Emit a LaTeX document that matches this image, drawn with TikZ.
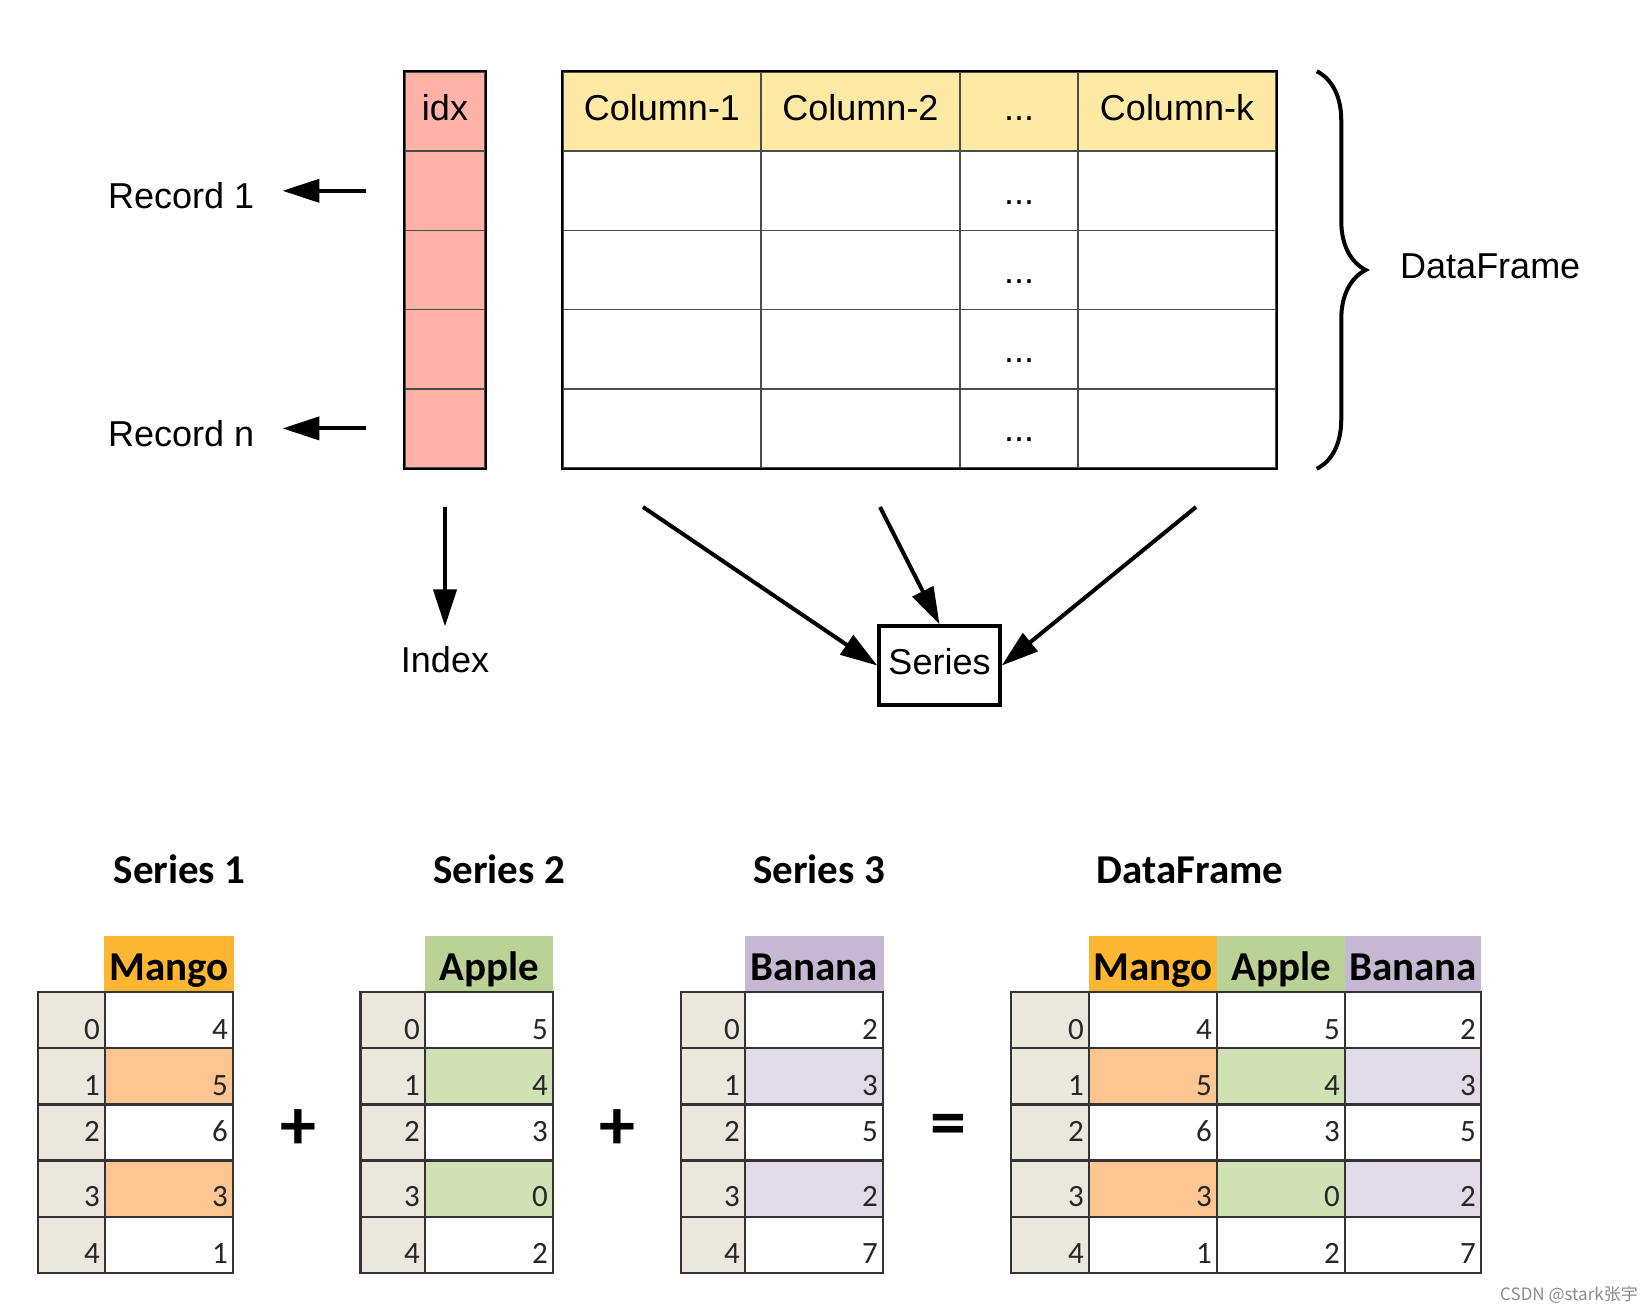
\documentclass[tikz,border=0pt]{standalone}
\usepackage{fontspec}
\setmainfont{Liberation Sans}
\newfontfamily\calibri{Carlito}
\newfontfamily\cjkfont{Noto Sans CJK SC}
\usepackage{xcolor}
\usetikzlibrary{arrows.meta, decorations.pathreplacing}

\definecolor{idxpink}{HTML}{FFB3A8}
\definecolor{headyellow}{HTML}{FFEAA5}
\definecolor{mangohead}{HTML}{FDB631}
\definecolor{mangocell}{HTML}{FDC592}
\definecolor{applehead}{HTML}{BBD296}
\definecolor{applecell}{HTML}{D1E1B6}
\definecolor{bananahead}{HTML}{C5B8D3}
\definecolor{bananacell}{HTML}{E1DAE8}
\definecolor{idxgray}{HTML}{EAE7DC}
\newcommand{\tdots}{...}

\begin{document}
\begin{tikzpicture}[x=1pt, y=-1pt]
	\tikzstyle{txt}=[inner sep=0pt, font=\fontsize{36}{43}\selectfont, text height=26.3pt, text depth=7.6pt]
	\tikzstyle{cell}=[draw=black!70, line width=1.5pt, minimum height=79.2pt, txt]
	\tikzstyle{arr}=[line width=4pt, -{Triangle[length=37pt, width=23pt]}]
	\tikzstyle{title}=[inner sep=0pt, anchor=base, font=\calibri\bfseries\fontsize{41}{49}\selectfont]
	\tikzstyle{head}=[minimum height=56pt, inner sep=0pt, text height=32pt, text depth=0pt, font=\calibri\bfseries\fontsize{41}{49}\selectfont]
	\tikzstyle{box}=[draw=black!80, line width=2.5pt, minimum height=56.2pt, inner sep=0pt]
	\tikzstyle{num}=[inner sep=0pt, anchor=base east, font=\calibri\fontsize{31}{37}\selectfont, text=black!85]
	\tikzstyle{op}=[inner sep=0pt, font=\calibri\bfseries\fontsize{72}{80}\selectfont]

	\path[fill=white] (0,0) rectangle (1648,1312);

	\draw node[cell, fill=idxpink, minimum width=80pt] at (445, 111.6) (idx-0) {idx};
	\foreach \i in {1,...,4}
		\draw node[cell, fill=idxpink, minimum width=80pt] at (445, 111.6+79.2*\i) (idx-\i) {};
	\draw[line width=1.8pt] (idx-0.north west) rectangle (idx-4.south east);

	\foreach \n/\cx/\w/\lab in {c1/662/198/Column-1, c2/860.5/199/Column-2, cd/1019/118/\tdots, ck/1177/198/Column-k} {
		\draw node[cell, fill=headyellow, minimum width=\w pt] at (\cx, 111.6) (\n-0) {\lab};
		\foreach \i in {1,...,4}
			\draw node[cell, minimum width=\w pt] at (\cx, 111.6+79.2*\i) (\n-\i) {};
	}
	\foreach \i in {1,...,4}
		\draw node[txt] at (1019, 115.8+79.2*\i) (dots-\i) {\tdots};
	\draw[line width=1.8pt] (c1-0.north west) rectangle (ck-4.south east);

	\draw node[txt, anchor=west] at (108, 199.6) (rec1) {Record 1};
	\draw node[txt, anchor=west] at (108, 437.6) (recn) {Record n};
	\draw[arr, shorten <=38pt, shorten >=28pt] (idx-1.west) -- (rec1.east |- idx-1.west);
	\draw[arr, shorten <=38pt, shorten >=28pt] (idx-4.west) -- (recn.east |- idx-4.west);

	\draw[line width=4pt, decorate, decoration={brace, amplitude=49pt}] ([xshift=40pt]ck-0.north east) -- ([xshift=40pt]ck-4.south east);
	\draw node[txt, anchor=west] at (1400, 269) (dflabel) {DataFrame};

	\draw node[txt] at (445, 663.6) (index) {Index};
	\draw[arr, shorten <=38pt, shorten >=20pt] (idx-4.south) -- (index.north);

	\draw node[txt, draw, line width=3.5pt, minimum width=121pt, minimum height=79pt] at (939.5, 665.5) (series) {Series};
	\coordinate (from1) at (643, 507);
	\coordinate (from2) at (880, 507);
	\coordinate (from3) at (1196, 507);
	\draw[arr] (from1) -- (series.west);
	\draw[arr] (from2) -- (series.north);
	\draw[arr] (from3) -- (series.east);

	\draw node[title] at (179.5, 883) (t1) {Series 1};
	\draw node[title] at (499, 883) (t2) {Series 2};
	\draw node[title] at (819, 883) (t3) {Series 3};
	\draw node[title] at (1190, 883) (t4) {DataFrame};

	\draw node[head, fill=mangohead, minimum width=130pt] at (169, 964) (s1-h) {Mango};
	\draw node[head, fill=applehead, minimum width=128pt] at (489, 964) (s2-h) {Apple};
	\draw node[head, fill=bananahead, minimum width=139pt] at (814, 964) (s3-h) {Banana};
	\draw node[head, fill=mangohead, minimum width=128pt] at (1153, 964) (df-h1) {Mango};
	\draw node[head, fill=applehead, minimum width=128pt] at (1281, 964) (df-h2) {Apple};
	\draw node[head, fill=bananahead, minimum width=136pt] at (1413, 964) (df-h3) {Banana};

	\foreach \i/\bl/\a/\b/\c in {0/1039/4/5/2, 1/1095/5/4/3, 2/1141/6/3/5, 3/1206/3/0/2, 4/1263/1/2/7} {
		\pgfmathtruncatemacro\pct{100*mod(\i,2)}
		\draw node[box, fill=idxgray, minimum width=67pt] at (71.5, 1020.1+56.2*\i) (s1-i\i) {};
		\draw node[box, fill=mangocell!\pct!white, minimum width=128pt] at (169, 1020.1+56.2*\i) (s1-v\i) {};
		\draw node[num] at (100, \bl) (s1-ni\i) {\i};
		\draw node[num] at (228, \bl) (s1-nv\i) {\a};

		\draw node[box, fill=idxgray, minimum width=64.3pt] at (392.6, 1020.1+56.2*\i) (s2-i\i) {};
		\draw node[box, fill=applecell!\pct!white, minimum width=128.2pt] at (488.9, 1020.1+56.2*\i) (s2-v\i) {};
		\draw node[num] at (420, \bl) (s2-ni\i) {\i};
		\draw node[num] at (548, \bl) (s2-nv\i) {\b};

		\draw node[box, fill=idxgray, minimum width=64.3pt] at (712.9, 1020.1+56.2*\i) (s3-i\i) {};
		\draw node[box, fill=bananacell!\pct!white, minimum width=137.7pt] at (813.9, 1020.1+56.2*\i) (s3-v\i) {};
		\draw node[num] at (740, \bl) (s3-ni\i) {\i};
		\draw node[num] at (878, \bl) (s3-nv\i) {\c};

		\draw node[box, fill=idxgray, minimum width=78pt] at (1050, 1020.1+56.2*\i) (df-i\i) {};
		\draw node[box, fill=mangocell!\pct!white, minimum width=128pt] at (1153, 1020.1+56.2*\i) (df-a\i) {};
		\draw node[box, fill=applecell!\pct!white, minimum width=128pt] at (1281, 1020.1+56.2*\i) (df-b\i) {};
		\draw node[box, fill=bananacell!\pct!white, minimum width=136pt] at (1413, 1020.1+56.2*\i) (df-c\i) {};
		\draw node[num] at (1084, \bl) (df-ni\i) {\i};
		\draw node[num] at (1212, \bl) (df-na\i) {\a};
		\draw node[num] at (1340, \bl) (df-nb\i) {\b};
		\draw node[num] at (1476, \bl) (df-nc\i) {\c};
	}

	\draw node[op] at (298, 1130) (plus1) {+};
	\draw node[op] at (617, 1130) (plus2) {+};
	\draw node[op] at (948, 1130) (equals) {=};

	\draw node[anchor=base west, inner sep=0pt, text=black!45, font=\cjkfont\fontsize{17}{20}\selectfont] at (1500, 1300) (mark) {CSDN @stark张宇};
\end{tikzpicture}
\end{document}
